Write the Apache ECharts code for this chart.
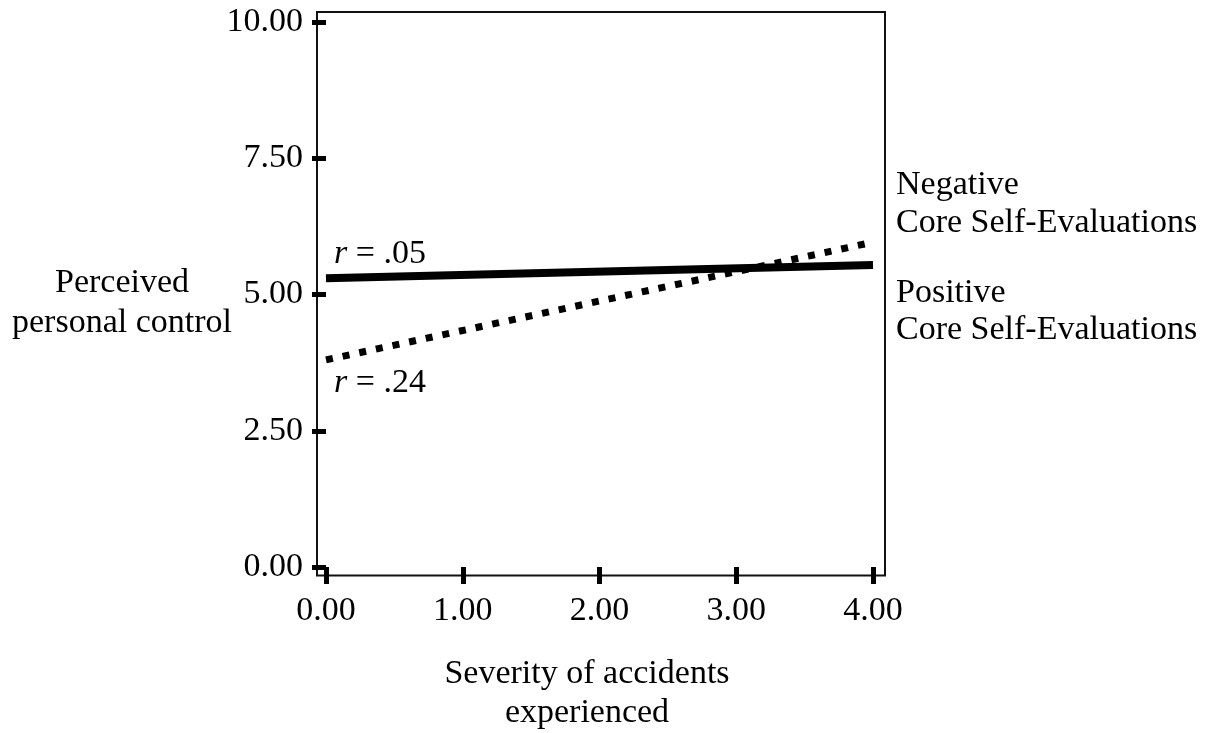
<!DOCTYPE html>
<html>
<head>
<meta charset="utf-8">
<script src="https://cdn.jsdelivr.net/npm/echarts@6/dist/echarts.min.js"></script>
<style>
  html, body { margin: 0; padding: 0; background: #fff; }
  #chart { width: 1210px; height: 733px; }
</style>
</head>
<body>
<div id="chart"></div>
<script>
// 数据
var xTicks = [0, 1, 2, 3, 4];
var yTicks = [0, 2.5, 5, 7.5, 10];
var severity = [0, 4];
var negativeCSE = [5.30, 5.54];   // 实线 r = .05
var positiveCSE = [3.80, 5.96];   // 虚线 r = .24

var FONT = "'Liberation Serif', 'Times New Roman', serif";
var FS = 34;

function pairs(xs, ys) {
  return xs.map(function (x, i) { return [x, ys[i]]; });
}

function txt(x, y, s, align) {
  return { type: 'text', x: x, y: y, style: {
    text: s, fill: '#000', fontSize: FS, fontFamily: FONT,
    align: align || 'center', verticalAlign: 'middle',
    rich: { i: { fontStyle: 'italic', fontSize: FS, fontFamily: FONT, fill: '#000' } }
  } };
}

var chart = echarts.init(document.getElementById('chart'));

var option = {
  backgroundColor: '#fff',
  animation: false,
  grid: [
    // 数据区
    { left: 326, top: 22, width: 547, height: 545 },
    // 外框
    { left: 317, top: 12, width: 568, height: 563.5, show: true,
      borderColor: '#111', borderWidth: 2, backgroundColor: 'transparent' }
  ],
  xAxis: [{
    gridIndex: 0, type: 'value', position: 'bottom', offset: 2,
    min: xTicks[0], max: xTicks[xTicks.length - 1], interval: 1,
    axisLine: { show: false },
    axisTick: { show: true, length: 17, lineStyle: { color: '#000', width: 5 } },
    splitLine: { show: false },
    axisLabel: {
      margin: 25, color: '#000', fontSize: FS, fontFamily: FONT,
      formatter: function (v) { return v.toFixed(2); }
    }
  }, {
    gridIndex: 1, type: 'value', show: false, min: 0, max: 1
  }],
  yAxis: [{
    gridIndex: 0, type: 'value', position: 'left',
    min: yTicks[0], max: yTicks[yTicks.length - 1], interval: 2.5,
    axisLine: { show: false },
    axisTick: { show: true, length: 14, lineStyle: { color: '#000', width: 5 } },
    splitLine: { show: false },
    axisLabel: {
      margin: 23, color: '#000', fontSize: FS, fontFamily: FONT,
      formatter: function (v) { return v.toFixed(2); }
    }
  }, {
    gridIndex: 1, type: 'value', show: false, min: 0, max: 1
  }],
  series: [{
    name: 'Negative Core Self-Evaluations',
    type: 'line', xAxisIndex: 0, yAxisIndex: 0,
    data: pairs(severity, negativeCSE),
    symbol: 'none',
    lineStyle: { color: '#000', width: 8 }
  }, {
    name: 'Positive Core Self-Evaluations',
    type: 'line', xAxisIndex: 0, yAxisIndex: 0,
    data: pairs(severity, positiveCSE),
    symbol: 'none',
    lineStyle: { color: '#000', width: 7, type: [7, 10] }
  }],
  graphic: [
    txt(122, 283, 'Perceived'),
    txt(122, 323, 'personal control'),
    txt(587, 674, 'Severity of accidents'),
    txt(587, 713, 'experienced'),
    txt(896, 185, 'Negative', 'left'),
    txt(896, 223, 'Core Self-Evaluations', 'left'),
    txt(896, 293, 'Positive', 'left'),
    txt(896, 330, 'Core Self-Evaluations', 'left'),
    txt(334, 254, '{i|r} = .05', 'left'),
    txt(334, 383, '{i|r} = .24', 'left')
  ]
};

chart.setOption(option);
</script>
</body>
</html>
